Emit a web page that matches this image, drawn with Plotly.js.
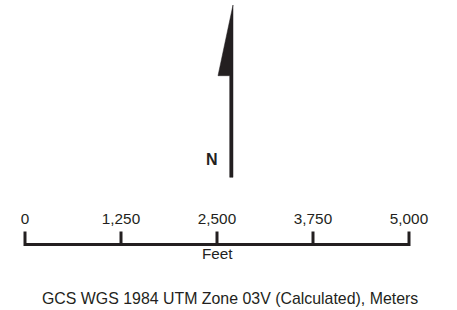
<!DOCTYPE html>
<html>
<head>
<meta charset="utf-8">
<script src="https://cdn.plot.ly/plotly-3.0.1.min.js"></script>
<style>html,body{margin:0;padding:0;background:#fff;}#chart{width:457px;height:310px;}</style>
</head>
<body>
<div id="chart"></div>
<script>
// Scale bar data
const scaleValues = [0, 1250, 2500, 3750, 5000];
const scaleLabels = ['0', '1,250', '2,500', '3,750', '5,000'];
const unitLabel = 'Feet';
const northLabel = 'N';
const footerText = 'GCS WGS 1984 UTM Zone 03V (Calculated), Meters';

const ink = '#231f20';
const font = 'Liberation Sans, Arial, sans-serif';

// layout positions (pixel space on the y axis)
const barY = 244.5, tickTop = 231.5, labelY = 220;

const tickX = [], tickY = [];
scaleValues.forEach(v => { tickX.push(v, v, null); tickY.push(tickTop, barY + 1.5, null); });

const maxV = scaleValues[scaleValues.length - 1];

const traces = [
  { // main bar
    x: [scaleValues[0], maxV], y: [barY, barY], mode: 'lines',
    line: {color: ink, width: 3}, xaxis: 'x', yaxis: 'y', hoverinfo: 'skip'
  },
  { // ticks
    x: tickX, y: tickY, mode: 'lines',
    line: {color: ink, width: 3}, xaxis: 'x', yaxis: 'y', hoverinfo: 'skip'
  },
  { // labels
    x: scaleValues, y: scaleValues.map(() => labelY), mode: 'text',
    text: scaleLabels, textposition: 'middle center',
    textfont: {family: font, size: 15.3, color: ink}, xaxis: 'x', yaxis: 'y', hoverinfo: 'skip'
  },
  { // north arrow (pixel-space axes)
    x: [233, 218, 229.7, 229.7, 233, 233],
    y: [5, 75.7, 75.7, 177.3, 177.3, 5],
    mode: 'lines', fill: 'toself', fillcolor: ink,
    line: {color: ink, width: 0.5}, xaxis: 'x2', yaxis: 'y2', hoverinfo: 'skip'
  }
];

const px = 0.0768; // pixels per foot
const x0px = 25;

const layout = {
  width: 457, height: 310,
  margin: {l: 0, r: 0, t: 0, b: 0},
  paper_bgcolor: '#fff', plot_bgcolor: '#fff',
  showlegend: false,
  xaxis: {range: [-x0px / px, (457 - x0px) / px], visible: false, fixedrange: true},
  yaxis: {range: [310, 0], visible: false, fixedrange: true},
  xaxis2: {range: [0, 457], visible: false, overlaying: 'x', fixedrange: true},
  yaxis2: {range: [310, 0], visible: false, overlaying: 'y', fixedrange: true},
  annotations: [
    {x: maxV / 2, y: 253, xref: 'x', yref: 'y', text: unitLabel, showarrow: false,
     xanchor: 'center', yanchor: 'middle', font: {family: font, size: 15.3, color: ink}},
    {x: 211.5, y: 159.5, xref: 'x2', yref: 'y2', text: '<b>' + northLabel + '</b>', showarrow: false,
     xanchor: 'center', yanchor: 'middle', font: {family: font, size: 16, color: ink}},
    {x: 229.5, y: 298.5, xref: 'x2', yref: 'y2', text: footerText, showarrow: false,
     xanchor: 'center', yanchor: 'middle', font: {family: font, size: 15.9, color: ink}}
  ]
};

Plotly.newPlot('chart', traces, layout, {staticPlot: true, displayModeBar: false});
</script>
</body>
</html>
